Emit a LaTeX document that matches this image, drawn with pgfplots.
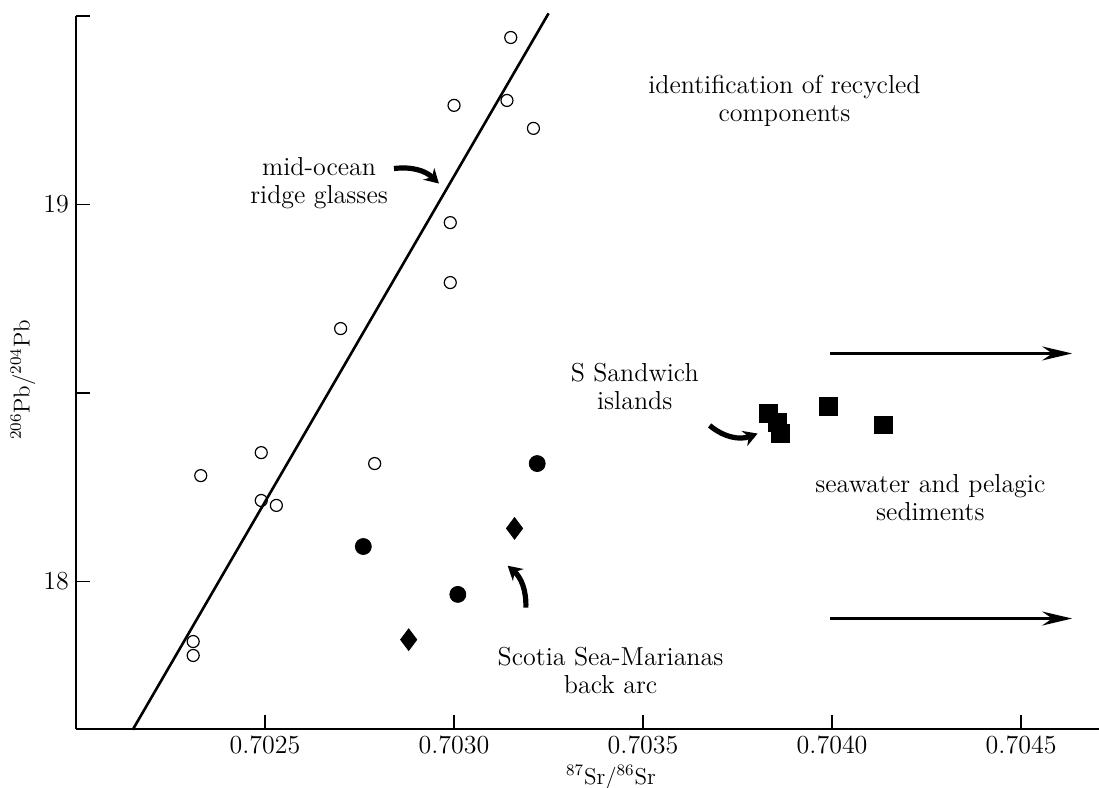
\documentclass[border=0pt]{standalone}
\usepackage{pgfplots}
\pgfplotsset{compat=1.18}
\usetikzlibrary{arrows.meta}

\newcommand{\lbl}{\fontsize{13}{14}\selectfont}

\begin{document}
\begin{tikzpicture}
% page = reference frame, 1px = 0.5pt, axis corner at (0,0)
\useasboundingbox (-38pt,-29.5pt) rectangle (511.5pt,364.5pt);
\begin{axis}[
  scale only axis, width=511.5pt, height=356.5pt,
  xmin=0.7020, xmax=0.704706, ymin=17.609, ymax=19.5,
  axis lines*=left, axis line style={line width=0.9pt},
  tick align=inside, xtick pos=bottom, ytick pos=left,
  major tick length=7pt, every tick/.style={line width=0.9pt,black},
  scaled x ticks=false,
  xtick={0.7025,0.7030,0.7035,0.7040,0.7045},
  xticklabels={0.7025,0.7030,0.7035,0.7040,0.7045},
  ytick={18,18.5,19,19.5}, yticklabels={18,,19,},
  tick label style={font=\fontsize{13}{14}\selectfont},
  xlabel={$^{87}$Sr/$^{86}$Sr}, ylabel={$^{206}$Pb/$^{204}$Pb},
  xlabel style={at={(axis description cs:0.523,-0.0687)},anchor=center,font=\fontsize{11.5}{13}\selectfont},
  ylabel style={at={(axis description cs:-0.0518,0.4895)},anchor=center,font=\fontsize{11.5}{13}\selectfont},
  clip=false
]
% mid-ocean ridge trend line
\addplot[line width=1.3pt] coordinates {(0.70215,17.607)(0.70325,19.507)};
% mid-ocean ridge glasses
\addplot[only marks,mark=o,mark size=3pt,mark options={line width=0.6pt}] coordinates {
  (0.70315,19.443)(0.70300,19.263)(0.70314,19.276)(0.70321,19.202)
  (0.70299,18.952)(0.70299,18.793)(0.70270,18.671)(0.70233,18.281)
  (0.70249,18.342)(0.70249,18.215)(0.70253,18.202)(0.70279,18.313)
  (0.70231,17.841)(0.70231,17.804)};
% back arc
\addplot[only marks,mark=*,mark size=4pt] coordinates {
  (0.70322,18.313)(0.70276,18.093)(0.70301,17.966)};
\addplot[only marks,mark=diamond*,mark size=5.4pt] coordinates {
  (0.70316,18.141)(0.70288,17.846)};
% S Sandwich islands
\addplot[only marks,mark=square*,mark size=4.4pt] coordinates {
  (0.703832,18.446)(0.703855,18.422)(0.703863,18.393)
  (0.703990,18.464)(0.704135,18.416)};
% seawater arrows
\draw[line width=1.3pt,-{Stealth[length=15pt,width=7pt,inset=5pt]}]
  (axis cs:0.703995,18.605) -- (axis cs:0.704635,18.605);
\draw[line width=1.3pt,-{Stealth[length=15pt,width=7pt,inset=5pt]}]
  (axis cs:0.703995,17.902) -- (axis cs:0.704635,17.902);
% curved pointers
\draw[line width=2.6pt,-{Stealth[length=7pt,width=8pt]}]
  (axis cs:0.702841,19.0955) to[bend left=25] (axis cs:0.70296,19.0557);
\draw[line width=2.6pt,-{Stealth[length=7pt,width=8pt]}]
  (axis cs:0.703676,18.414) to[bend right=30] (axis cs:0.703803,18.3926);
\draw[line width=2.6pt,-{Stealth[length=7pt,width=8pt]}]
  (axis cs:0.70319,17.931) to[bend right=25] (axis cs:0.703142,18.042);
% annotations
\node[align=center,font=\lbl] at (axis cs:0.703874,19.276) {identification of recycled\\components};
\node[align=center,font=\lbl] at (axis cs:0.702643,19.058) {mid-ocean\\ridge glasses};
\node[align=center,font=\lbl] at (axis cs:0.703478,18.517) {S Sandwich\\islands};
\node[align=center,font=\lbl] at (axis cs:0.70426,18.223) {seawater and pelagic\\sediments};
\node[align=center,font=\lbl] at (axis cs:0.703414,17.765) {Scotia Sea-Marianas\\back arc};
\end{axis}
\end{tikzpicture}
\end{document}
